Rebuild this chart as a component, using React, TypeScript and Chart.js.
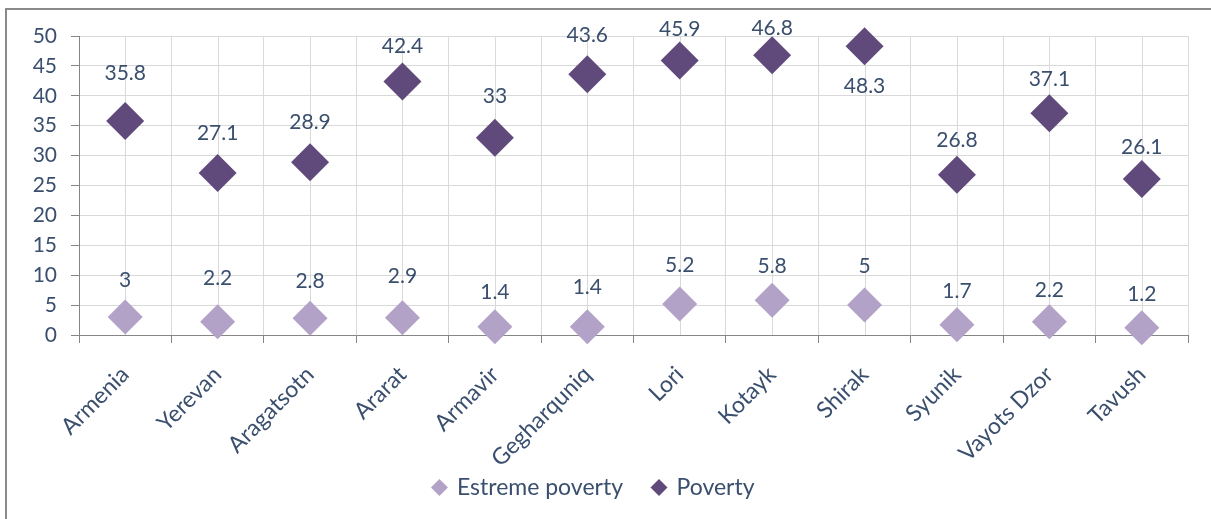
import React, { useEffect, useRef } from "react";
import { Chart, registerables } from "chart.js";

Chart.register(...registerables);

const categories = [
  "Armenia",
  "Yerevan",
  "Aragatsotn",
  "Ararat",
  "Armavir",
  "Gegharquniq",
  "Lori",
  "Kotayk",
  "Shirak",
  "Syunik",
  "Vayots Dzor",
  "Tavush",
];
const extremePoverty = [3, 2.2, 2.8, 2.9, 1.4, 1.4, 5.2, 5.8, 5, 1.7, 2.2, 1.2];
const poverty = [35.8, 27.1, 28.9, 42.4, 33, 43.6, 45.9, 46.8, 48.3, 26.8, 37.1, 26.1];
const seriesNames = ["Estreme poverty", "Poverty"];
const yMin = 0;
const yMax = 50;
const yStep = 5;

// label placement (pixels above the marker; negative = below)
const extremeLabelOffsets = [37, 44, 37, 41, 34, 39, 39, 34, 39, 34, 32, 34];
const povertyLabelOffsets = [48, 40, 40, 35, 41, 39, 31, 27, -40, 35, 34, 32];

const TEXT = "#3a4f6e";
const GRID = "#d9d9d9";
const AXIS = "#868686";
const FONT = "Lato";

const centerLines = {
  id: "centerLines",
  beforeDatasetsDraw(chart: any) {
    const { ctx, chartArea, scales } = chart;
    const x = scales.x;
    ctx.save();
    ctx.strokeStyle = GRID;
    ctx.lineWidth = 1;
    for (let i = 0; i < categories.length; i++) {
      const px = Math.round(x.getPixelForValue(i)) + 0.5;
      ctx.beginPath();
      ctx.moveTo(px, chartArea.top);
      ctx.lineTo(px, chartArea.bottom);
      ctx.stroke();
    }
    ctx.restore();
  },
};

const valueLabels = {
  id: "valueLabels",
  afterDatasetsDraw(chart: any) {
    const { ctx } = chart;
    const offsets = [extremeLabelOffsets, povertyLabelOffsets];
    ctx.save();
    ctx.font = `21px ${FONT}`;
    ctx.fillStyle = TEXT;
    ctx.textAlign = "center";
    ctx.textBaseline = "middle";
    chart.data.datasets.forEach((ds: any, di: number) => {
      const meta = chart.getDatasetMeta(di);
      meta.data.forEach((pt: any, i: number) => {
        const v = ds.data[i];
        ctx.fillText(String(v), pt.x, pt.y - offsets[di][i]);
      });
    });
    ctx.restore();
  },
};

export default function App() {
  const ref = useRef<HTMLCanvasElement>(null);

  useEffect(() => {
    if (!ref.current) return;
    const chart = new Chart(ref.current, {
      type: "line",
      data: {
        labels: categories,
        datasets: [
          {
            label: seriesNames[0],
            data: extremePoverty,
            showLine: false,
            clip: false,
            pointStyle: "rectRot",
            pointRadius: 17.5,
            pointHoverRadius: 17.5,
            pointBorderWidth: 0,
            pointBackgroundColor: "#b3a2c7",
            backgroundColor: "#b3a2c7",
            borderColor: "#b3a2c7",
          },
          {
            label: seriesNames[1],
            data: poverty,
            showLine: false,
            clip: false,
            pointStyle: "rectRot",
            pointRadius: 19,
            pointHoverRadius: 19,
            pointBorderWidth: 0,
            pointBackgroundColor: "#604a7b",
            backgroundColor: "#604a7b",
            borderColor: "#604a7b",
          },
        ],
      },
      options: {
        animation: false,
        responsive: true,
        maintainAspectRatio: false,
        layout: { padding: { top: 36, right: 23, left: 0, bottom: 10 } },
        plugins: {
          tooltip: { enabled: false },
          legend: {
            position: "bottom",
            labels: {
              usePointStyle: true,
              pointStyle: "rectRot",
              boxWidth: 12,
              boxHeight: 12,
              padding: 30,
              color: TEXT,
              font: { family: FONT, size: 23 },
            },
          },
        },
        scales: {
          x: {
            type: "category",
            offset: true,
            grid: {
              offset: true,
              color: GRID,
              tickColor: AXIS,
              tickLength: 8,
            },
            border: { color: AXIS },
            ticks: {
              autoSkip: false,
              minRotation: 45,
              maxRotation: 45,
              padding: 18,
              color: TEXT,
              font: { family: FONT, size: 23 },
            },
            afterFit(scale: any) {
              scale.height = 111;
              scale._computeLabelArea = () => undefined;
            },
          },
          y: {
            min: yMin,
            max: yMax,
            ticks: {
              stepSize: yStep,
              padding: 14,
              color: TEXT,
              font: { family: FONT, size: 21 },
            },
            grid: { color: GRID, tickColor: AXIS, tickLength: 8 },
            border: { color: AXIS },
            afterFit(scale: any) {
              scale.width = 79;
            },
          },
        },
      },
      plugins: [centerLines, valueLabels],
    });
    return () => chart.destroy();
  }, []);

  return (
    <div
      style={{
        position: "fixed",
        left: 0,
        top: 0,
        width: 1211,
        height: 519,
        background: "#ffffff",
      }}
    >
      <div
        style={{
          position: "absolute",
          left: 5,
          top: 8,
          width: 1220,
          height: 530,
          borderTop: "2px solid #8a8a8a",
          borderLeft: "2px solid #8a8a8a",
          boxSizing: "border-box",
        }}
      />
      <canvas ref={ref} style={{ position: "absolute", left: 0, top: 0 }} />
    </div>
  );
}
